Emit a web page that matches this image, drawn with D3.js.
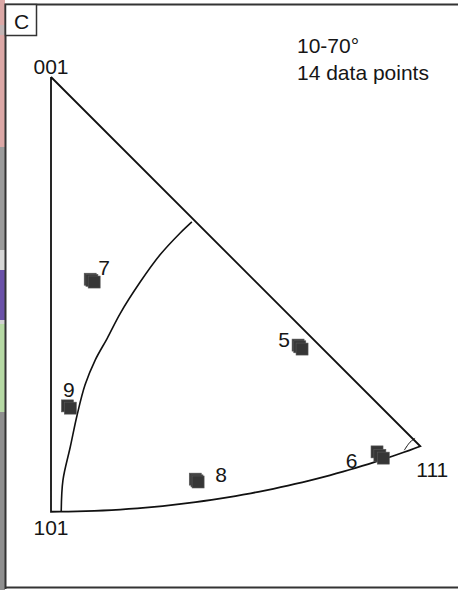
<!DOCTYPE html>
<html>
<head>
<meta charset="utf-8">
<script src="https://cdn.jsdelivr.net/npm/d3@7"></script>
<style>
  body { margin: 0; background: #fff; }
  text { font-family: "Liberation Sans", Arial, sans-serif; fill: #161616; }
</style>
</head>
<body>
<figure id="ipf" style="margin:0"></figure>
<script>
// equal-area projection coords (X right, Y down, 001 at origin)
const pointIds = ["7", "7", "7", "9", "9", "5", "5", "5", "6", "6", "6", "8", "8", "8"];
const pointX = [0.069, 0.072, 0.076, 0.029, 0.034, 0.435, 0.438, 0.442, 0.574, 0.579, 0.585, 0.254, 0.257, 0.259];
const pointY = [0.356, 0.358, 0.361, 0.579, 0.583, 0.472, 0.475, 0.479, 0.660, 0.666, 0.671, 0.708, 0.711, 0.713];

const labelText = ["7", "9", "5", "6", "8"];
const labelX = [0.083, 0.021, 0.400, 0.519, 0.289];
const labelY = [0.349, 0.563, 0.475, 0.688, 0.713];

const poles = ["001", "101", "111"];
const poleDirs = [[0, 0, 1], [1, 0, 1], [1, 1, 1]];

// boundary line inside the triangle
const arcX = [0.018, 0.021, 0.034, 0.046, 0.060, 0.078, 0.099, 0.122, 0.157, 0.192, 0.227, 0.248];
const arcY = [0.766, 0.710, 0.651, 0.595, 0.542, 0.498, 0.460, 0.416, 0.361, 0.313, 0.275, 0.255];
const tipX = [0.622, 0.632, 0.641];
const tipY = [0.657, 0.643, 0.636];

const header = ["10-70°", "14 data points"];
const panel = "C";

// neighbouring panel strip on the left edge
const stripStops = [0, 25, 35, 147, 250, 270, 320, 324, 412, 590];
const stripColors = ["#dca8a6", "#c2b4b4", "#dca8a6", "#9b9b9b", "#d6d6d6", "#6a51a8", "#d2d2d2", "#b6d9a4", "#8f8f8f"];

const width = 458, height = 590;
const k = 568;
const x = d3.scaleLinear().domain([0, 1]).range([51, 51 + k]);
const y = d3.scaleLinear().domain([0, 1]).range([77, 77 + k]);

function project(d) {
  const n = Math.hypot(d[0], d[1], d[2]);
  const a = d[0] / n, b = d[1] / n, c = d[2] / n;
  const r = Math.sqrt(2 * (1 - c));
  const phi = Math.atan2(b, a);
  return [r * Math.sin(phi), r * Math.cos(phi)];
}

const svg = d3.select("figure#ipf")
  .append("svg")
  .attr("width", width)
  .attr("height", height);

// left strip
const sy = d3.scaleLinear().domain([0, 590]).range([0, 590]);
svg.selectAll("rect.strip")
  .data(stripColors)
  .enter()
  .append("rect")
  .attr("x", 0)
  .attr("width", 5)
  .attr("y", (d, i) => sy(stripStops[i]))
  .attr("height", (d, i) => sy(stripStops[i + 1]) - sy(stripStops[i]))
  .attr("fill", d => d);

// frame
svg.append("path")
  .attr("d", "M5.5,589 L5.5,4.5 L458,4.5 M5.5,587.5 L458,587.5")
  .attr("fill", "none")
  .attr("stroke", "#333")
  .attr("stroke-width", 2);

svg.append("rect")
  .attr("x", 5.5).attr("y", 4.5)
  .attr("width", 31).attr("height", 31)
  .attr("fill", "#fff")
  .attr("stroke", "#333")
  .attr("stroke-width", 1.5);
svg.append("text")
  .attr("x", 21.5).attr("y", 29)
  .attr("text-anchor", "middle")
  .style("font-size", "21px")
  .text(panel);

// triangle edges
const line = d3.line().x(d => x(d[0])).y(d => y(d[1]));
const edge = [];
for (let t = 0; t <= 45; t += 1) {
  const r = t * Math.PI / 180;
  edge.push(project([Math.sin(r), 0, Math.cos(r)]));
}
for (let s = 0; s <= 1.0001; s += 0.02) edge.push(project([1, s, 1]));
edge.push(project(poleDirs[0]));

svg.append("path")
  .attr("d", line(edge))
  .attr("fill", "none")
  .attr("stroke", "#111")
  .attr("stroke-width", 1.8)
  .attr("stroke-linejoin", "miter");

const curve = d3.line().x(d => x(d[0])).y(d => y(d[1])).curve(d3.curveCatmullRom);
svg.append("path")
  .attr("d", curve(arcX.map((v, i) => [v, arcY[i]])))
  .attr("fill", "none")
  .attr("stroke", "#111")
  .attr("stroke-width", 1.6);
svg.append("path")
  .attr("d", curve(tipX.map((v, i) => [v, tipY[i]])))
  .attr("fill", "none")
  .attr("stroke", "#111")
  .attr("stroke-width", 1);

// pole labels
const poleOff = [[0, -3], [0, 23], [12, 31]];
svg.selectAll("text.pole")
  .data(poles)
  .enter()
  .append("text")
  .attr("x", (d, i) => x(project(poleDirs[i])[0]) + poleOff[i][0])
  .attr("y", (d, i) => y(project(poleDirs[i])[1]) + poleOff[i][1])
  .attr("text-anchor", "middle")
  .style("font-size", "21px")
  .text(d => d);

// data points
svg.selectAll("rect.pt")
  .data(pointX)
  .enter()
  .append("rect")
  .attr("x", (d, i) => x(d) - 6)
  .attr("y", (d, i) => y(pointY[i]) - 6)
  .attr("width", 12)
  .attr("height", 12)
  .attr("fill", "#363636")
  .attr("stroke", "#5a5a5a")
  .attr("stroke-width", 0.6);

svg.selectAll("text.lbl")
  .data(labelText)
  .enter()
  .append("text")
  .attr("x", (d, i) => x(labelX[i]))
  .attr("y", (d, i) => y(labelY[i]))
  .style("font-size", "21px")
  .text(d => d);

svg.selectAll("text.hdr")
  .data(header)
  .enter()
  .append("text")
  .attr("x", 297)
  .attr("y", (d, i) => 53 + i * 27)
  .style("font-size", "21px")
  .text(d => d);
</script>
</body>
</html>
